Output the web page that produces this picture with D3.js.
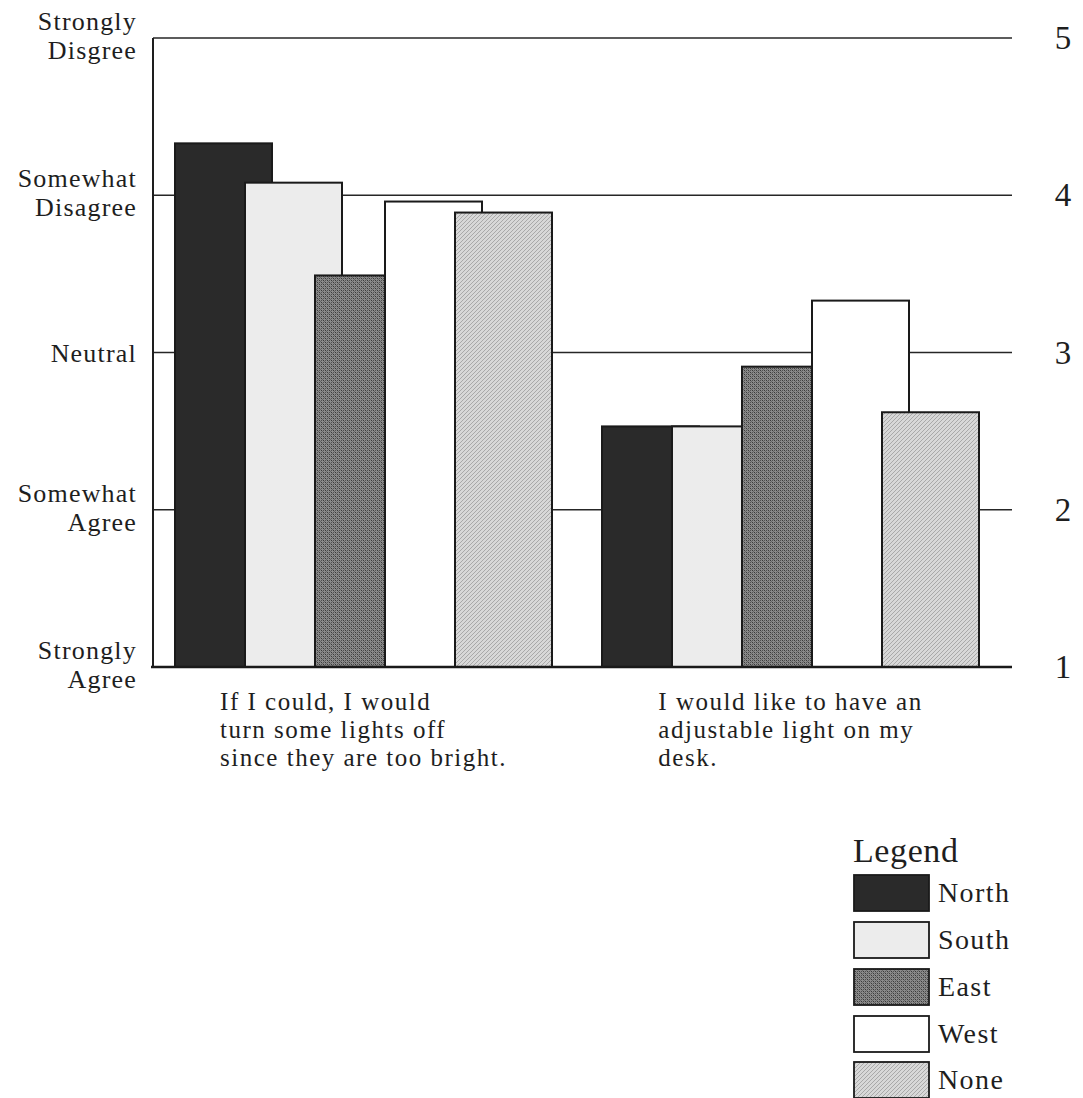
<!DOCTYPE html>
<html>
<head>
<meta charset="utf-8">
<script src="https://cdn.jsdelivr.net/npm/d3@7"></script>
<style>
  html, body { margin: 0; padding: 0; background: #ffffff; }
  svg { display: block; }
  text { font-family: "Liberation Serif", "Times New Roman", serif; fill: #1e1e1e; }
</style>
</head>
<body>
<svg id="chart" width="1083" height="1098"></svg>
<script>
// Survey statements (one group of bars each), split into display lines
const categories = ["lights", "desk"];
const categoryLines = [
  ["If I could, I would", "turn some lights off", "since they are too bright."],
  ["I would like to have an", "adjustable light on my", "desk."]
];

// Office orientation groups
const series = ["North", "South", "East", "West", "None"];

// Mean response per series, one value per statement
const north = [4.33, 2.53];
const south = [4.08, 2.53];
const east  = [3.49, 2.91];
const west  = [3.96, 3.33];
const none  = [3.89, 2.62];

// Response scale
const yTicks = [1, 2, 3, 4, 5];
const yTickLabels = [
  ["Strongly", "Agree"],
  ["Somewhat", "Agree"],
  ["Neutral"],
  ["Somewhat", "Disagree"],
  ["Strongly", "Disgree"]
];

const seriesValues = [north, south, east, west, none];

const svg = d3.select("#chart");

// ---- fills: solid and stippled textures ----
const defs = svg.append("defs");

const eastPat = defs.append("pattern")
  .attr("id", "pat-east").attr("patternUnits", "userSpaceOnUse")
  .attr("width", 4).attr("height", 4);
eastPat.append("rect").attr("width", 4).attr("height", 4).attr("fill", "#8a8a8a");
[[0, 0, "#3a3a3a"], [2, 2, "#3a3a3a"], [2, 0, "#525252"], [0, 2, "#525252"],
 [1, 1, "#666"], [3, 3, "#666"]].forEach(([px, py, c]) =>
  eastPat.append("rect").attr("x", px).attr("y", py).attr("width", 1).attr("height", 1).attr("fill", c));

const nonePat = defs.append("pattern")
  .attr("id", "pat-none").attr("patternUnits", "userSpaceOnUse")
  .attr("width", 4).attr("height", 4);
nonePat.append("rect").attr("width", 4).attr("height", 4).attr("fill", "#d8d8d8");
nonePat.append("path").attr("d", "M-1,1 L1,-1 M0,4 L4,0 M3,5 L5,3")
  .attr("stroke", "#a4a4a4").attr("stroke-width", 0.9);

const fills = {
  North: "#2a2a2a",
  South: "#ececec",
  East: "url(#pat-east)",
  West: "#ffffff",
  None: "url(#pat-none)"
};

// ---- scales ----
const y = d3.scaleLinear().domain([1, 5]).range([667, 38]);
const xGroup = d3.scaleBand().domain(categories).range([175, 1029]).padding(0);
const xSeries = d3.scaleBand().domain(series).range([0, 350]).padding(0);
const barWidth = 97;

const plotLeft = 153, plotRight = 1012;

// ---- grid lines ----
svg.append("g").selectAll("line")
  .data(yTicks.filter(t => t > 1))
  .join("line")
  .attr("x1", plotLeft).attr("x2", plotRight)
  .attr("y1", d => y(d)).attr("y2", d => y(d))
  .attr("stroke", "#262626").attr("stroke-width", 1.6);

// left axis line
svg.append("line")
  .attr("x1", plotLeft).attr("x2", plotLeft)
  .attr("y1", y(5)).attr("y2", y(1))
  .attr("stroke", "#1e1e1e").attr("stroke-width", 2);

// ---- bars (later series overlap earlier ones) ----
const groups = svg.append("g").selectAll("g")
  .data(categories)
  .join("g")
  .attr("transform", d => `translate(${xGroup(d)},0)`);

groups.selectAll("rect")
  .data((c, ci) => series.map((s, si) => ({ s, v: seriesValues[si][ci] })))
  .join("rect")
  .attr("x", d => xSeries(d.s))
  .attr("y", d => y(d.v))
  .attr("width", barWidth)
  .attr("height", d => y(1) - y(d.v))
  .attr("fill", d => fills[d.s])
  .attr("stroke", "#1a1a1a")
  .attr("stroke-width", 2);

// baseline
svg.append("line")
  .attr("x1", plotLeft - 2).attr("x2", plotRight)
  .attr("y1", y(1)).attr("y2", y(1))
  .attr("stroke", "#1a1a1a").attr("stroke-width", 2.6);

// ---- left verbal labels ----
const leftG = svg.append("g");
yTicks.forEach((t, i) => {
  const lines = yTickLabels[i];
  const offsets = lines.length === 1 ? [9] : [-8, 21];
  lines.forEach((line, li) => {
    leftG.append("text")
      .attr("x", 137)
      .attr("y", y(t) + offsets[li])
      .attr("text-anchor", "end")
      .attr("font-size", 26)
      .attr("letter-spacing", 1.2)
      .text(line);
  });
});

// ---- right numeric labels ----
svg.append("g").selectAll("text")
  .data(yTicks)
  .join("text")
  .attr("x", 1063)
  .attr("y", d => y(d) + 11)
  .attr("text-anchor", "middle")
  .attr("font-size", 33)
  .text(d => d);

// ---- statement labels under each group ----
categories.forEach((c, ci) => {
  const center = xGroup(c) + (xSeries(series[series.length - 1]) + barWidth) / 2;
  const lineEls = categoryLines[ci].map((line, li) =>
    svg.append("text")
      .attr("y", 710 + li * 27.8)
      .attr("font-size", 25)
      .attr("letter-spacing", 1.5)
      .text(line));
  const widest = d3.max(lineEls, el => el.node().getComputedTextLength());
  lineEls.forEach(el => el.attr("x", center - widest / 2));
});

// ---- legend ----
const legend = svg.append("g").attr("transform", "translate(853,0)");
legend.append("text")
  .attr("x", 0).attr("y", 862)
  .attr("font-size", 34)
  .attr("letter-spacing", 0.6)
  .text("Legend");
const rowTops = [875, 922, 969, 1016, 1062];
const rows = legend.selectAll("g.row")
  .data(series)
  .join("g")
  .attr("class", "row")
  .attr("transform", (d, i) => `translate(0,${rowTops[i]})`);
rows.append("rect")
  .attr("x", 1).attr("y", 0)
  .attr("width", 75).attr("height", 36)
  .attr("fill", d => fills[d])
  .attr("stroke", "#1a1a1a").attr("stroke-width", 1.8);
rows.append("text")
  .attr("x", 85).attr("y", 27)
  .attr("font-size", 28)
  .attr("letter-spacing", 1.4)
  .text(d => d);
</script>
</body>
</html>
